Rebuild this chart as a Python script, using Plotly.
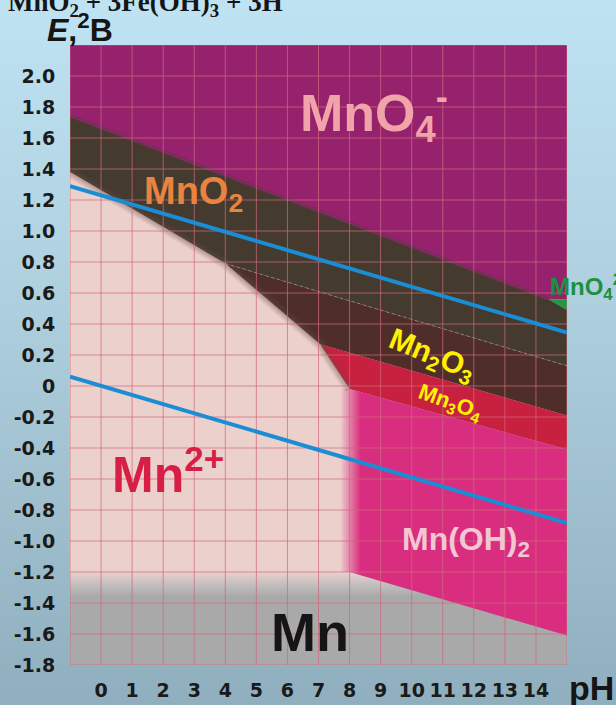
import plotly.graph_objects as go

# ---------------- axes / ticks ----------------
PH_RANGE = [-1, 15]
E_RANGE = [-1.8, 2.2]
ph_grid = [-1, 0, 1, 2, 3, 4, 5, 6, 7, 8, 9, 10, 11, 12, 13, 14, 15]
E_grid = [-1.8, -1.6, -1.4, -1.2, -1.0, -0.8, -0.6, -0.4, -0.2, 0.0,
          0.2, 0.4, 0.6, 0.8, 1.0, 1.2, 1.4, 1.6, 1.8, 2.0, 2.2]
ph_tick_vals = [0, 1, 2, 3, 4, 5, 6, 7, 8, 9, 10, 11, 12, 13, 14]
ph_tick_text = ["0", "1", "2", "3", "4", "5", "6", "7", "8", "9", "10", "11", "12", "13", "14"]
E_tick_vals = [2.0, 1.8, 1.6, 1.4, 1.2, 1.0, 0.8, 0.6, 0.4, 0.2, 0.0,
               -0.2, -0.4, -0.6, -0.8, -1.0, -1.2, -1.4, -1.6, -1.8]
E_tick_text = ["2.0", "1.8", "1.6", "1.4", "1.2", "1.0", "0.8", "0.6", "0.4", "0.2", "0",
               "-0.2", "-0.4", "-0.6", "-0.8", "-1.0", "-1.2", "-1.4", "-1.6", "-1.8"]

# ---------------- boundary lines (pH, E) ----------------
b_mno4_mno2_ph = [-1.0, 14.4];   b_mno4_mno2_E = [1.74, 0.56]      # MnO4- / MnO2
b_mno4_mno42_ph = [14.4, 15.0];  b_mno4_mno42_E = [0.56, 0.56]     # MnO4- / MnO4 2-
b_mno42_mno2_ph = [14.4, 15.0];  b_mno42_mno2_E = [0.56, 0.49]     # MnO4 2- / MnO2
b_mno2_mn2_ph = [-1.0, 4.0];     b_mno2_mn2_E = [1.38, 0.79]       # MnO2 / Mn2+
b_mno2_mn2o3_ph = [4.0, 15.0];   b_mno2_mn2o3_E = [0.79, 0.13]     # MnO2 / Mn2O3
b_mn2o3_mn2_ph = [4.0, 7.05];    b_mn2o3_mn2_E = [0.79, 0.27]      # Mn2O3 / Mn2+
b_mn2o3_mn3o4_ph = [7.05, 15.0]; b_mn2o3_mn3o4_E = [0.27, -0.19]   # Mn2O3 / Mn3O4
b_mn3o4_mn2_ph = [7.05, 8.0];    b_mn3o4_mn2_E = [0.27, -0.02]     # Mn3O4 / Mn2+
b_mn3o4_mnoh2_ph = [8.0, 15.0];  b_mn3o4_mnoh2_E = [-0.02, -0.41]  # Mn3O4 / Mn(OH)2
b_mnoh2_mn2_ph = [8.0, 8.0];     b_mnoh2_mn2_E = [-0.02, -1.20]    # Mn(OH)2 / Mn2+
b_mnoh2_mn_ph = [8.0, 15.0];     b_mnoh2_mn_E = [-1.20, -1.61]     # Mn(OH)2 / Mn
b_mn2_mn_ph = [-1.0, 8.0];       b_mn2_mn_E = [-1.28, -1.28]       # Mn2+ / Mn

# water stability lines
water_ph = [-1.0, 15.0]
water_O2_E = [1.29, 0.345]
water_H2_E = [0.06, -0.885]

# ---------------- styles ----------------
C_MNO4 = "#96226E"
C_MNO42 = "#1F9A3E"
C_MNO2 = "#453A2E"
C_MN2O3 = "#4F2E29"
C_MN3O4 = "#C8203F"
C_MNOH2 = "#D92E7F"
C_MN2 = "#ECD0CC"
C_MN = "#A9A9A9"
C_WATER = "#1A8DD4"
MNOH2_FADE = [7.7, 8.35]
MN_FADE = [-1.36, -1.20]
FONT = "Liberation Sans, Arial, sans-serif"
TICK_FONT = "DejaVu Sans, Verdana, sans-serif"


def rev(a):
    return list(reversed(a))


fig = go.Figure()

# page background (gradient) on a full-page helper axis
fig.add_trace(go.Scatter(
    x=[0, 1, 1, 0, 0], y=[0, 0, 1, 1, 0], xaxis="x", yaxis="y",
    mode="none", fill="toself", hoverinfo="skip", showlegend=False,
    fillgradient=dict(type="vertical",
                      colorscale=[[0, "#90AFBE"], [0.55, "#ADCEDD"], [1, "#BFE3F3"]]),
))


def region(xs, ys, color, **kw):
    fig.add_trace(go.Scatter(x=xs, y=ys, xaxis="x2", yaxis="y2", mode="none",
                             fill="toself", fillcolor=color, hoverinfo="skip",
                             showlegend=False, **kw))


# MnO4-
region([PH_RANGE[0], PH_RANGE[1]] + rev(b_mno4_mno42_ph) + rev(b_mno4_mno2_ph),
       [E_RANGE[1], E_RANGE[1]] + rev(b_mno4_mno42_E) + rev(b_mno4_mno2_E), C_MNO4)
# MnO4 2-
region(b_mno4_mno42_ph + rev(b_mno42_mno2_ph),
       b_mno4_mno42_E + rev(b_mno42_mno2_E), C_MNO42)
# MnO2
region(b_mno4_mno2_ph + b_mno42_mno2_ph + rev(b_mno2_mn2o3_ph) + rev(b_mno2_mn2_ph),
       b_mno4_mno2_E + b_mno42_mno2_E + rev(b_mno2_mn2o3_E) + rev(b_mno2_mn2_E), C_MNO2)
# Mn2O3
region(b_mno2_mn2o3_ph + rev(b_mn2o3_mn3o4_ph) + rev(b_mn2o3_mn2_ph),
       b_mno2_mn2o3_E + rev(b_mn2o3_mn3o4_E) + rev(b_mn2o3_mn2_E), C_MN2O3)
# Mn3O4
region(b_mn2o3_mn3o4_ph + rev(b_mn3o4_mnoh2_ph) + rev(b_mn3o4_mn2_ph),
       b_mn2o3_mn3o4_E + rev(b_mn3o4_mnoh2_E) + rev(b_mn3o4_mn2_E), C_MN3O4)
# Mn2+
region(b_mno2_mn2_ph + b_mn2o3_mn2_ph + b_mn3o4_mn2_ph + b_mnoh2_mn2_ph + rev(b_mn2_mn_ph),
       b_mno2_mn2_E + b_mn2o3_mn2_E + b_mn3o4_mn2_E + b_mnoh2_mn2_E + rev(b_mn2_mn_E), C_MN2)
# Mn (with soft top edge)
region([PH_RANGE[0], b_mnoh2_mn_ph[0]] + b_mnoh2_mn_ph + [PH_RANGE[1], PH_RANGE[0]],
       [MN_FADE[1], MN_FADE[1]] + b_mnoh2_mn_E + [E_RANGE[0], E_RANGE[0]], C_MN,
       fillgradient=dict(type="vertical", start=MN_FADE[0], stop=MN_FADE[1],
                         colorscale=[[0, C_MN], [0.55, "#C6C1C1"], [1, C_MN2]]))
# Mn(OH)2 (with soft left edge)
region([MNOH2_FADE[0]] + b_mn3o4_mnoh2_ph + rev(b_mnoh2_mn_ph) + [MNOH2_FADE[0]],
       [b_mn3o4_mnoh2_E[0]] + b_mn3o4_mnoh2_E + rev(b_mnoh2_mn_E) + [b_mnoh2_mn_E[0]], C_MNOH2,
       fillgradient=dict(type="horizontal", start=MNOH2_FADE[0], stop=MNOH2_FADE[1],
                         colorscale=[[0, C_MN2], [1, C_MNOH2]]))

# soft edge of the Mn2+ field
edge_x = b_mno2_mn2_ph + b_mn2o3_mn2_ph + b_mn3o4_mn2_ph
edge_y = b_mno2_mn2_E + b_mn2o3_mn2_E + b_mn3o4_mn2_E
for w, a in ((11, 0.12), (7, 0.16), (3, 0.2)):
    fig.add_trace(go.Scatter(x=edge_x, y=edge_y, xaxis="x2", yaxis="y2", mode="lines",
                             hoverinfo="skip", showlegend=False,
                             line=dict(color="rgba(110,80,70,%.2f)" % a, width=w)))
# soft edge MnO4-/MnO2
fig.add_trace(go.Scatter(x=b_mno4_mno2_ph, y=b_mno4_mno2_E, xaxis="x2", yaxis="y2",
                         mode="lines", hoverinfo="skip", showlegend=False,
                         line=dict(color="rgba(110,45,80,0.6)", width=4)))
# faint dotted MnO2/Mn2O3 line
fig.add_trace(go.Scatter(x=b_mno2_mn2o3_ph, y=b_mno2_mn2o3_E, xaxis="x2", yaxis="y2",
                         mode="lines", hoverinfo="skip", showlegend=False,
                         line=dict(color="rgba(190,170,160,0.55)", width=1, dash="dot")))

# grid on top of the fields
gx, gy = [], []
for p in ph_grid:
    gx += [p, p, None]
    gy += [E_RANGE[0], E_RANGE[1], None]
for e in E_grid:
    gx += [PH_RANGE[0], PH_RANGE[1], None]
    gy += [e, e, None]
fig.add_trace(go.Scatter(x=gx, y=gy, xaxis="x2", yaxis="y2", mode="lines",
                         hoverinfo="skip", showlegend=False,
                         line=dict(color="rgba(205,105,125,0.72)", width=1)))

# water lines
for ys in (water_O2_E, water_H2_E):
    fig.add_trace(go.Scatter(x=water_ph, y=ys, xaxis="x2", yaxis="y2", mode="lines",
                             hoverinfo="skip", showlegend=False,
                             line=dict(color=C_WATER, width=4)))

# ---------------- labels ----------------
def lab(text, x, y, size, color, angle=0, xanchor="center", ref="x2"):
    fig.add_annotation(text=text, x=x, y=y, xref=ref, yref=ref.replace("x", "y"),
                       showarrow=False, textangle=angle, xanchor=xanchor, yanchor="middle",
                       font=dict(family=FONT, size=size, color=color, weight="bold"))


lab("MnO<sub>4</sub><sup>-</sup>", 8.78, 1.76, 52, "#F0A3A8")
lab("MnO<sub>2</sub>", 2.99, 1.24, 38, "#E8843F")
lab("Mn<sub>2</sub>O<sub>3</sub>", 10.65, 0.20, 30, "#FFF200", angle=22)
lab("Mn<sub>3</sub>O<sub>4</sub>", 11.23, -0.11, 22, "#FFF200", angle=20)
lab("Mn<sup>2+</sup>", 2.15, -0.55, 50, "#D71F45")
lab("Mn(OH)<sub>2</sub>", 11.75, -1.0, 32, "#F2C7D3")
lab("Mn", 6.73, -1.59, 54, "#151515")
lab("MnO<sub>4</sub><sup>2-</sup>", 14.39, 0.64, 24, "#1E9040", xanchor="left")

# axis titles and the cut-off formula above
fig.add_annotation(text="<i>E</i>,<sup>2</sup>B", x=45 / 616, y=1 - 28 / 705,
                   xref="paper", yref="paper", xanchor="left", yanchor="middle", showarrow=False,
                   font=dict(family=FONT, size=32, color="#151515", weight="bold"))
fig.add_annotation(text="pH", x=591 / 616, y=1 - 688 / 705,
                   xref="paper", yref="paper", xanchor="center", yanchor="middle", showarrow=False,
                   font=dict(family=FONT, size=34, color="#151515", weight="bold"))
fig.add_annotation(text="MnO<sub>2</sub> + 3Fe(OH)<sub>3</sub> + 3H", x=6 / 616, y=1 - 4 / 705,
                   xref="paper", yref="paper", xanchor="left", yanchor="middle", showarrow=False,
                   font=dict(family="Liberation Serif, Times New Roman, serif", size=27,
                             color="#151515", weight="bold"))

L, R, T, B = 70, 567, 45, 665
W, H = 616, 705
fig.update_layout(
    width=W, height=H, margin=dict(l=0, r=0, t=0, b=0, autoexpand=False),
    paper_bgcolor="#ADCEDD", plot_bgcolor="rgba(0,0,0,0)",
    xaxis=dict(domain=[0, 1], range=[0, 1], visible=False, fixedrange=True, automargin=False),
    yaxis=dict(domain=[0, 1], range=[0, 1], visible=False, fixedrange=True, automargin=False),
    xaxis2=dict(domain=[L / W, R / W], range=PH_RANGE, anchor="y2", automargin=False,
                tickvals=ph_tick_vals, ticktext=ph_tick_text, showgrid=False, zeroline=False,
                showline=False, ticks="outside", ticklen=8, tickcolor="rgba(0,0,0,0)",
                tickfont=dict(family=TICK_FONT, size=19, color="#1A1A1A", weight="bold")),
    yaxis2=dict(domain=[1 - B / H, 1 - T / H], range=E_RANGE, anchor="x2", automargin=False,
                tickvals=E_tick_vals, ticktext=E_tick_text, showgrid=False, zeroline=False,
                showline=False, ticks="outside", ticklen=10, tickcolor="rgba(0,0,0,0)",
                tickfont=dict(family=TICK_FONT, size=19, color="#1A1A1A", weight="bold")),
    showlegend=False,
)

fig.write_html("out.html", config={"displayModeBar": False},
               post_script="document.body.style.margin='0';"
                           "document.documentElement.style.overflow='hidden';")
